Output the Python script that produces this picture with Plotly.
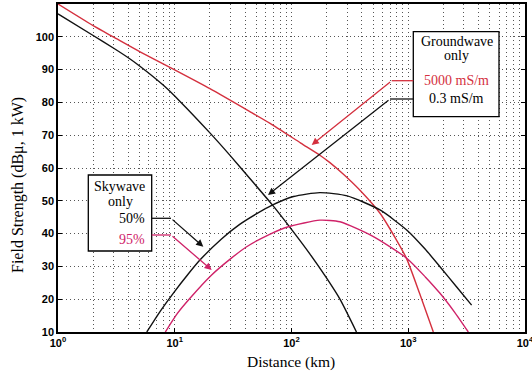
import plotly.graph_objects as go

# ---- data ----
gw5000_d = [1, 2, 3, 5, 10, 20, 44, 65.5, 120, 175, 212, 280, 386, 573, 800, 970, 1250, 1640]
gw5000_v = [110, 103.4, 99.9, 95.5, 89.9, 84.2, 77.2, 73.6, 67.6, 63.9, 61.7, 58.0, 53.2, 46.2, 37.8, 32.3, 21.8, 10]

gw03_d = [1, 2, 3, 4, 5, 8, 11.1, 20, 30, 44, 68, 97, 143, 200, 260, 360]
gw03_v = [107, 100.4, 96.5, 93.6, 91.1, 85.2, 80.3, 70.7, 63.7, 56.8, 48.9, 41.9, 33.9, 26.4, 20.0, 10]

sw50_d = [5.76, 7.5, 9.7, 13, 16.5, 25, 36, 50, 67.7, 104, 175, 300, 573, 970, 1400, 1870, 2600, 3490]
sw50_v = [10, 16.3, 21.8, 27.6, 32, 38.3, 42.8, 46.0, 48.6, 51.3, 52.5, 51.5, 47.2, 41.1, 35.2, 29.9, 23.7, 18.2]

sw95_d = [8.3, 10.5, 13.5, 20.7, 30, 41.3, 65, 94, 175, 260, 503, 970, 1400, 1870, 2500, 3270]
sw95_v = [10, 15.6, 20.3, 27.4, 32.3, 36, 39.8, 42.1, 44.1, 43.6, 39.1, 32.5, 26.8, 21.8, 16, 10]

x_tickvals = [1, 10, 100, 1000, 10000]
x_ticktext = ["10<sup>0</sup>", "10<sup>1</sup>", "10<sup>2</sup>", "10<sup>3</sup>", "10<sup>4</sup>"]
y_tickvals = [10, 20, 30, 40, 50, 60, 70, 80, 90, 100]

RED = "#d4303e"
PINK = "#cf2268"
BLACK = "#111111"

W, H = 532, 374
ML, MR, MT, MB = 58, 7, 4, 42
PW, PH = W - ML - MR, H - MT - MB


def px(x):
    return (x - ML) / PW


def py(y):
    return (H - MB - y) / PH


fig = go.Figure()
for d, v, c in [(gw5000_d, gw5000_v, RED), (gw03_d, gw03_v, BLACK),
                (sw50_d, sw50_v, BLACK), (sw95_d, sw95_v, PINK)]:
    fig.add_trace(go.Scatter(x=d, y=v, mode="lines",
                             line=dict(color=c, width=1.4, shape="spline", smoothing=0.6),
                             showlegend=False, hoverinfo="skip"))

minor_vals = [m * 10 ** e for e in range(0, 4) for m in range(2, 10)]

GRIDC = "#555555"
grid = dict(showgrid=True, gridcolor=GRIDC, gridwidth=1, griddash="1px,3px")
tickfont = dict(family="Liberation Sans", size=11, color="black", weight="bold")

fig.update_xaxes(type="log", range=[0, 4], tickvals=x_tickvals, ticktext=x_ticktext,
                 ticks="inside", ticklen=4, tickcolor="black",
                 showline=True, linecolor="black", linewidth=1.5, mirror=True,
                 tickfont=tickfont, ticklabeloverflow="allow", automargin=False,
                 minor=dict(tickvals=minor_vals, showgrid=True, gridcolor=GRIDC,
                            gridwidth=1, griddash="1px,3px", ticks=""),
                 zeroline=False, **grid)
fig.update_yaxes(range=[10, 110], tickvals=y_tickvals,
                 ticks="inside", ticklen=4, tickcolor="black",
                 showline=True, linecolor="black", linewidth=1.5, mirror="ticks",
                 tickfont=tickfont, automargin=False,
                 zeroline=False, **grid)

shapes = []
annots = []
serif = "Liberation Serif"

# axis titles
annots.append(dict(xref="paper", yref="paper", x=px(291), y=py(362), text="Distance (km)",
                   showarrow=False, font=dict(family=serif, size=15.5, color="black"),
                   xanchor="center", yanchor="middle"))
annots.append(dict(xref="paper", yref="paper", x=px(18), y=py(185), text="Field Strength (dBμ, 1 kW)",
                   showarrow=False, textangle=-90, font=dict(family=serif, size=16, color="black"),
                   xanchor="center", yanchor="middle"))


def label(x, y, text, color="black", anchor="center", size=14):
    annots.append(dict(xref="paper", yref="paper", x=px(x), y=py(y), text=text,
                       showarrow=False, font=dict(family=serif, size=size, color=color),
                       xanchor=anchor, yanchor="middle"))


# Groundwave box
shapes.append(dict(type="rect", xref="paper", yref="paper",
                   x0=px(413.3), x1=px(499), y0=py(116.7), y1=py(31.7),
                   line=dict(color="black", width=1.3), fillcolor="white", layer="above"))
label(456.5, 41.5, "Groundwave")
label(456.5, 55.5, "only")
label(456.7, 80, "5000 mS/m", RED)
label(456.7, 98.5, "0.3 mS/m")

# Skywave box
shapes.append(dict(type="rect", xref="paper", yref="paper",
                   x0=px(88.3), x1=px(151.7), y0=py(251), y1=py(175),
                   line=dict(color="black", width=1.3), fillcolor="white", layer="above"))
label(119.5, 187, "Skywave")
label(120, 201.7, "only")
label(146.5, 218.3, "50%", "black", "right")
label(146.5, 239.3, "95%", PINK, "right")

# leaders: (start x, y, corner x, tip x, tip y, color)
leaders = [
    (413.3, 80.7, 391.7, 311.7, 145, RED),
    (413.3, 99, 390, 268, 195, BLACK),
    (151.7, 218.3, 171, 203.3, 246.7, BLACK),
    (151.7, 235, 171, 211.7, 270, PINK),
]
for sx, sy, cx, tx, ty, c in leaders:
    shapes.append(dict(type="line", xref="paper", yref="paper",
                       x0=px(sx), x1=px(cx), y0=py(sy), y1=py(sy),
                       line=dict(color=c, width=1.3), layer="above"))
    annots.append(dict(xref="paper", yref="paper", x=px(tx), y=py(ty), text="",
                       showarrow=True, ax=cx - tx, ay=sy - ty, axref="pixel", ayref="pixel",
                       arrowhead=2, arrowsize=1.1, arrowwidth=1.3, arrowcolor=c, standoff=0))

fig.update_layout(width=W, height=H, margin=dict(l=ML, r=MR, t=MT, b=MB, autoexpand=False),
                  paper_bgcolor="white", plot_bgcolor="white",
                  shapes=shapes, annotations=annots)

fig.write_html("out.html", config={"displayModeBar": False},
               post_script="document.body.style.margin='0';document.body.style.padding='0';")
